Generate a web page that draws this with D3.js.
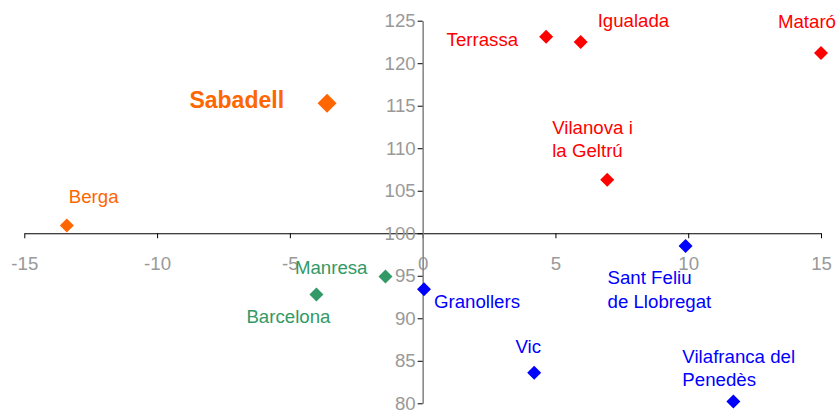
<!DOCTYPE html>
<html>
<head>
<meta charset="utf-8">
<script src="https://cdn.jsdelivr.net/npm/d3@7/dist/d3.min.js"></script>
<style>
  html, body { margin: 0; padding: 0; background: #fff; }
  svg { display: block; }
</style>
</head>
<body>
<script>
// ---- Data ----
const cities = ["Sabadell", "Berga", "Terrassa", "Igualada", "Mataró", "Vilanova i\nla Geltrú",
  "Sant Feliu\nde Llobregat", "Granollers", "Vic", "Vilafranca del\nPenedès", "Manresa", "Barcelona"];
const xValues = [-3.6, -13.4, 4.65, 5.95, 15.0, 6.95, 9.9, 0.05, 4.2, 11.7, -1.4, -4.0];
const yValues = [115.3, 100.9, 123.1, 122.5, 121.2, 106.3, 98.5, 93.4, 83.6, 80.2, 94.9, 92.8];
const groups  = ["highlight", "orange", "red", "red", "red", "red", "blue", "blue", "blue", "blue", "green", "green"];
const xTicks = [-15, -10, -5, 0, 5, 10, 15];
const yTicks = [80, 85, 90, 95, 100, 105, 110, 115, 120, 125];

// ---- Styles / layout ----
const W = 839, H = 415;
const colors = { highlight: "#FF6600", orange: "#FF6600", red: "#FF0000", blue: "#0000FF", green: "#339966" };
// label offsets relative to the marker (px): anchor, dx, dy of first baseline
const labelLayout = {
  "Sabadell": { anchor: "end", dx: -43, dy: 5 },
  "Berga": { anchor: "start", dx: 2, dy: -23 },
  "Terrassa": { anchor: "end", dx: -28, dy: 9 },
  "Igualada": { anchor: "start", dx: 17, dy: -15 },
  "Mataró": { anchor: "end", dx: 15, dy: -25 },
  "Vilanova i\nla Geltrú": { anchor: "start", dx: -55, dy: -46 },
  "Sant Feliu\nde Llobregat": { anchor: "start", dx: -78, dy: 38 },
  "Granollers": { anchor: "start", dx: 10, dy: 19 },
  "Vic": { anchor: "middle", dx: -6, dy: -20 },
  "Vilafranca del\nPenedès": { anchor: "start", dx: -51, dy: -39 },
  "Manresa": { anchor: "end", dx: -18, dy: -3 },
  "Barcelona": { anchor: "middle", dx: -28, dy: 29 }
};

const svg = d3.select("body").append("svg").attr("width", W).attr("height", H);

const x = d3.scaleLinear().domain([-15, 15]).range([24.3, 821]);
const y = d3.scaleLinear().domain([80, 125]).range([403.3, 20.7]);

const font = "Arial, 'Liberation Sans', Helvetica, sans-serif";

// X axis at y = 100
const xAxis = svg.append("g")
  .attr("transform", `translate(0,${y(100)})`)
  .call(d3.axisBottom(x).tickValues(xTicks).tickSize(5).tickPadding(18).tickSizeOuter(0)
    .tickFormat(d => d < 0 ? "-" + Math.abs(d) : d));
xAxis.select(".domain").attr("stroke", "#000").attr("stroke-width", 1);
xAxis.selectAll(".tick line").attr("stroke", "#000");
xAxis.selectAll("text").attr("fill", "#999999").style("font-family", font).style("font-size", "18.67px");

// Y axis at x = 0
const yAxis = svg.append("g")
  .attr("transform", `translate(${x(0)},0)`)
  .call(d3.axisLeft(y).tickValues(yTicks).tickSize(5).tickPadding(2).tickSizeOuter(0));
yAxis.select(".domain").attr("stroke", "#808080").attr("stroke-width", 1.5);
yAxis.selectAll(".tick line").attr("stroke", "#000");
yAxis.selectAll("text").attr("fill", "#999999").style("font-family", font).style("font-size", "18.67px");

// Points
const pts = cities.map((c, i) => ({ name: c, x: xValues[i], y: yValues[i], g: groups[i] }));

const diamond = r => `M0,${-r}L${r},0L0,${r}L${-r},0Z`;

svg.append("g").selectAll("path").data(pts).join("path")
  .attr("transform", d => `translate(${x(d.x)},${y(d.y)})`)
  .attr("d", d => diamond(d.g === "highlight" ? 9.5 : 7))
  .attr("fill", d => colors[d.g]);

// Labels
const lab = svg.append("g").selectAll("text").data(pts).join("text")
  .attr("x", d => x(d.x) + labelLayout[d.name].dx)
  .attr("y", d => y(d.y) + labelLayout[d.name].dy)
  .attr("text-anchor", d => labelLayout[d.name].anchor)
  .attr("fill", d => colors[d.g])
  .style("font-family", font)
  .style("font-size", d => d.g === "highlight" ? "23px" : "18.67px")
  .style("font-weight", d => d.g === "highlight" ? "bold" : "normal");

lab.each(function(d) {
  const t = d3.select(this);
  const px = x(d.x) + labelLayout[d.name].dx;
  d.name.split("\n").forEach((line, i) => {
    t.append("tspan").attr("x", px).attr("dy", i === 0 ? 0 : 23.5).text(line);
  });
});
</script>
</body>
</html>
